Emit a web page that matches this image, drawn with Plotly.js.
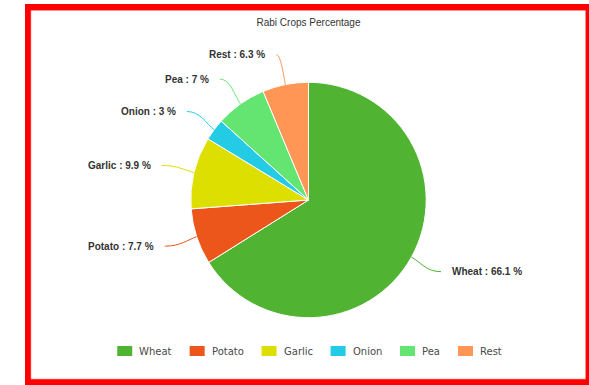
<!DOCTYPE html>
<html>
<head>
<meta charset="utf-8">
<script src="https://cdn.plot.ly/plotly-3.0.1.min.js"></script>
<style>
  html, body { margin: 0; padding: 0; background: #ffffff; }
  #chart { width: 589px; height: 385px; }
</style>
</head>
<body>
<div id="chart"></div>
<script>
// ---- data ----
const categories = ['Wheat', 'Potato', 'Garlic', 'Onion', 'Pea', 'Rest'];
const values = [66.1, 7.7, 9.9, 3, 7, 6.3];
const colors = ['#50B432', '#ED561B', '#DDDF00', '#24CBE5', '#64E572', '#FF9655'];
const chartTitle = 'Rabi Crops Percentage';

// ---- layout geometry (pixels) ----
const W = 589, H = 385;
const cx = 308.5, cy = 200, r = 117.7;
const labelR = 148;

const px = x => x / W;
const py = y => 1 - y / H;

const total = values.reduce((a, b) => a + b, 0);

const shapes = [];
const annotations = [];

// frame
shapes.push({type: 'rect', xref: 'paper', yref: 'paper', layer: 'below',
  x0: px(25), x1: px(589), y0: py(385), y1: py(4),
  fillcolor: '#FF0000', line: {width: 0}});
shapes.push({type: 'rect', xref: 'paper', yref: 'paper', layer: 'below',
  x0: px(31), x1: px(585.5), y0: py(379), y1: py(10.5),
  fillcolor: '#FFFFFF', line: {width: 1, color: 'rgba(255,150,150,0.6)'}});

// data labels with connectors
let cum = 0;
values.forEach((v, i) => {
  const mid = (cum + v / 2) / total;
  cum += v;
  const th = mid * 2 * Math.PI;
  const s = Math.sin(th), c = Math.cos(th);
  const side = s >= 0 ? 1 : -1;
  const E = {x: cx + r * s, y: cy - r * c};
  const P = {x: cx + labelR * s, y: cy - labelR * c};
  const C = {x: P.x + side * 3, y: P.y};
  const k1 = 0.5 * Math.abs(E.x - C.x);
  const k2 = 10;
  const path = 'M' + px(C.x) + ',' + py(C.y) +
    ' C' + px(C.x - side * k1) + ',' + py(C.y) +
    ' ' + px(E.x + s * k2) + ',' + py(E.y - c * k2) +
    ' ' + px(E.x) + ',' + py(E.y);
  shapes.push({type: 'path', xref: 'paper', yref: 'paper', layer: 'above',
    path: path, line: {color: colors[i], width: 1}});
  annotations.push({
    xref: 'paper', yref: 'paper', showarrow: false,
    x: px(C.x + side * 9), y: py(P.y),
    xanchor: side > 0 ? 'left' : 'right', yanchor: 'middle',
    text: '<b>' + categories[i] + ' : ' + values[i] + ' %</b>',
    font: {family: 'Liberation Sans, Arial, sans-serif', size: 10, color: '#333333'}
  });
});

// legend (drawn manually, centred under the pie)
const legendFont = '10px "DejaVu Sans"';
const cvs = document.createElement('canvas');
const ctx = cvs.getContext('2d');
ctx.font = legendFont;
const symW = 15, symH = 10, symGap = 5, itemGap = 20, legendY = 351;
const widths = categories.map(t => ctx.measureText(t).width);
const legendTotal = widths.reduce((a, w) => a + symW + symGap + w, 0) + itemGap * (categories.length - 1);
let lx = cx - legendTotal / 2;
categories.forEach((t, i) => {
  shapes.push({type: 'rect', xref: 'paper', yref: 'paper', layer: 'above',
    x0: px(lx), x1: px(lx + symW), y0: py(legendY + symH / 2), y1: py(legendY - symH / 2),
    fillcolor: colors[i], line: {width: 0}});
  annotations.push({
    xref: 'paper', yref: 'paper', showarrow: false,
    x: px(lx + symW + symGap), y: py(legendY),
    xanchor: 'left', yanchor: 'middle',
    text: t,
    font: {family: 'DejaVu Sans, sans-serif', size: 10, color: '#4a4a4a'}
  });
  lx += symW + symGap + widths[i] + itemGap;
});

const trace = {
  type: 'pie',
  labels: categories,
  values: values,
  sort: false,
  direction: 'clockwise',
  rotation: 0,
  textinfo: 'none',
  hoverinfo: 'label+percent',
  showlegend: false,
  marker: {colors: colors, line: {color: '#FFFFFF', width: 1}},
  domain: {
    x: [px(cx - r), px(cx + r)],
    y: [1 - (cy + r) / H, 1 - (cy - r) / H]
  }
};

const layout = {
  width: W, height: H,
  margin: {l: 0, r: 0, t: 0, b: 0},
  paper_bgcolor: '#FFFFFF',
  showlegend: false,
  title: {
    text: chartTitle,
    font: {family: 'Liberation Sans, Arial, sans-serif', size: 10, color: '#333333'},
    x: px(cx), xref: 'paper', xanchor: 'center',
    y: py(22), yref: 'container', yanchor: 'middle'
  },
  shapes: shapes,
  annotations: annotations
};

Plotly.newPlot('chart', [trace], layout, {displayModeBar: false, responsive: false});
</script>
</body>
</html>
